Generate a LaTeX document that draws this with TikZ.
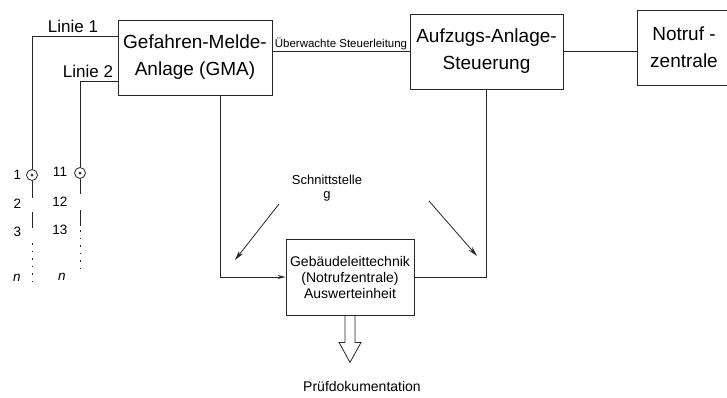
\documentclass[tikz,border=0pt]{standalone}
\usepackage{fontspec}
\setmainfont{Liberation Sans}
\usetikzlibrary{arrows.meta}

\begin{document}
\begin{tikzpicture}
    [x=1pt,y=-1pt,
     linestyle/.style={draw=black!85,line width=0.8pt},
     dotstyle/.style={linestyle,dash pattern=on 1.5pt off 6pt},
     boxstyle/.style={linestyle,rectangle,align=center,inner sep=0pt,font=\fontsize{19}{27}\selectfont},
     smallboxstyle/.style={linestyle,rectangle,align=center,inner sep=0pt,font=\fontsize{14}{16}\selectfont},
     textstyle/.style={inner sep=0pt,align=center,font=\fontsize{13.5}{14}\selectfont},
     linietextstyle/.style={inner sep=0pt,font=\fontsize{17}{19}\selectfont},
     sensorstyle/.style={linestyle,circle,minimum size=11pt,inner sep=0pt},
     arrowstyle/.style={linestyle,-{Stealth[length=10pt,width=5pt]}}]

    \useasboundingbox (0,0) rectangle (727,397);

    \node[boxstyle,minimum width=154pt,minimum height=75pt] (gma) at (195,57.5) {Gefahren-Melde-\\Anlage (GMA)};
    \node[boxstyle,minimum width=153pt,minimum height=75pt] (aas) at (486.5,51.5) {Aufzugs-Anlage-\\Steuerung};
    \node[boxstyle,minimum width=94pt,minimum height=75pt] (nrz) at (684,47.5) {Notruf -\\zentrale};
    \node[smallboxstyle,minimum width=128pt,minimum height=76pt] (glt) at (350,277) {Geb\"audeleittechnik\\(Notrufzentrale)\\Auswerteinheit};

    \draw [linestyle] (gma.east |- aas.west) -- node[above=1pt,inner sep=0pt,font=\fontsize{11.5}{12}\selectfont] {\"Uberwachte Steuerleitung} (aas.west);
    \draw [linestyle] (aas.east) -- (aas.east -| nrz.west);

    \coordinate (l1) at (32,36);
    \coordinate (l2) at (80,81);
    \node[sensorstyle] (c1) at (32,175) {};
    \node[sensorstyle] (c11) at (80,173) {};
    \fill [black!85] (c1) circle (1.5pt);
    \fill [black!85] (c11) circle (1.5pt);

    \draw [linestyle] (gma.west |- l1) -- (l1) -- (c1.north);
    \draw [linestyle] (gma.west |- l2) -- (l2) -- (c11.north);
    \node[linietextstyle] (lin1) at (73,26) {Linie 1};
    \node[linietextstyle] (lin2) at (88,71) {Linie 2};

    \draw [linestyle] (c1.south) -- ++(0,17);
    \draw [linestyle] (c1) ++(0,37) -- ++(0,16);
    \draw [dotstyle] (c1) ++(0,68) -- ++(0,40);
    \draw [linestyle] (c11.south) -- ++(0,15);
    \draw [linestyle] (c11) ++(0,37) -- ++(0,16);
    \draw [dotstyle] (c11) ++(0,57) -- ++(0,40);

    \node[textstyle] (n1) at (17.5,175) {1};
    \node[textstyle] (n2) at (17.5,204) {2};
    \node[textstyle] (n3) at (17.5,232) {3};
    \node[textstyle] (nn) at (17,278) {\itshape n};
    \node[textstyle] (n11) at (60,172) {11};
    \node[textstyle] (n12) at (60,202) {12};
    \node[textstyle] (n13) at (60,230) {13};
    \node[textstyle] (nm) at (62,277) {\itshape n};

    \coordinate (g1) at (220,0);
    \draw [linestyle,-{Stealth[length=8pt,width=4pt]}] (gma.south -| g1) |- (glt.west);
    \draw [linestyle] (aas.south) |- (glt.east);

    \node[textstyle,font=\fontsize{13}{14}\selectfont] (sg) at (327,188) {Schnittstelle\\g};
    \coordinate (sl1) at (279,204);
    \coordinate (sl2) at (235,260);
    \coordinate (sr1) at (429,201);
    \coordinate (sr2) at (477,256);
    \draw [arrowstyle] (sl1) -- (sl2);
    \draw [arrowstyle] (sr1) -- (sr2);

    \draw [linestyle] (glt.south) ++(-5,0) -- ++(0,27) -- ++(-6,0) -- ++(11,20) -- ++(11,-20) -- ++(-6,0) -- ++(0,-27);
    \node[inner sep=0pt,font=\fontsize{14}{16}\selectfont] (pd) at (362,386) {Pr\"ufdokumentation};
\end{tikzpicture}
\end{document}
